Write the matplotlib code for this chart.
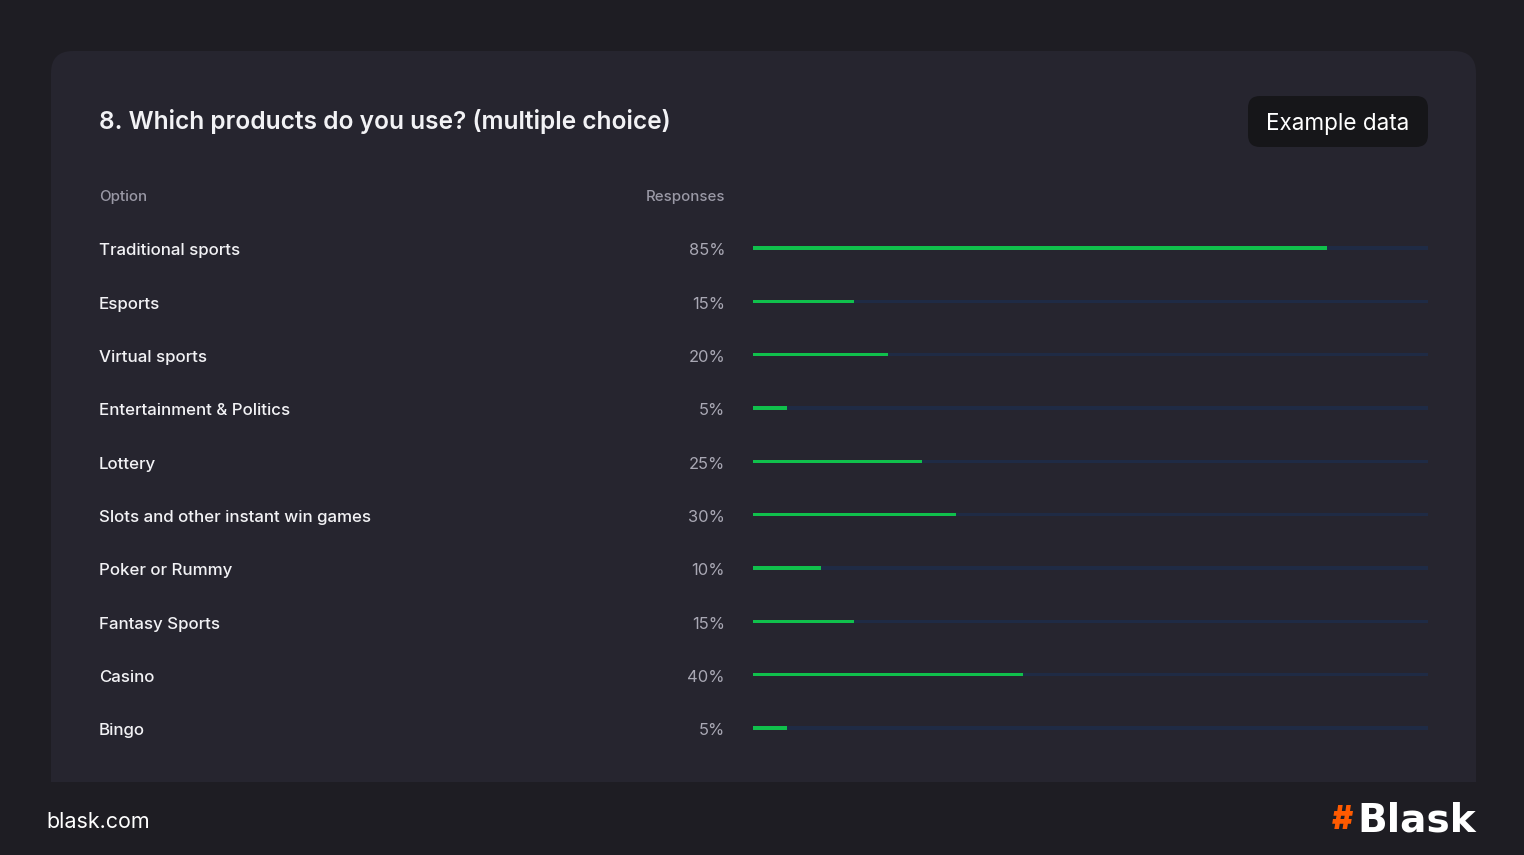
import matplotlib
matplotlib.use("Agg")
import matplotlib.pyplot as plt
from matplotlib.patches import FancyBboxPatch, Rectangle
from matplotlib.transforms import blended_transform_factory

plt.rcParams['font.family'] = ['Inter', 'DejaVu Sans']

title = "8. Which products do you use? (multiple choice)"
options = ["Traditional sports", "Esports", "Virtual sports", "Entertainment & Politics",
           "Lottery", "Slots and other instant win games", "Poker or Rummy",
           "Fantasy Sports", "Casino", "Bingo"]
responses = [85, 15, 20, 5, 25, 30, 10, 15, 40, 5]
header_option = "Option"
header_resp = "Responses"
badge_text = "Example data"
footer_left = "blask.com"

W, H = 1524, 855
PX = 0.72  # points per pixel at dpi 100

fig = plt.figure(figsize=(W / 100, H / 100), dpi=100)
fig.patch.set_facecolor("#1e1d23")

bg = fig.add_axes([0, 0, 1, 1])
bg.set_xlim(0, W)
bg.set_ylim(H, 0)
bg.axis("off")

# card
card = FancyBboxPatch((51, 51), 1425, 760, boxstyle="round,pad=0,rounding_size=22",
                      facecolor="#26252f", edgecolor="none", zorder=1)
bg.add_patch(card)
bg.add_patch(Rectangle((51, 782), 1425, 40, facecolor="#1e1d23", edgecolor="none", zorder=1.5))

# badge
badge = FancyBboxPatch((1248, 96), 180, 51, boxstyle="round,pad=0,rounding_size=12",
                       facecolor="#161619", edgecolor="none", zorder=2)
bg.add_patch(badge)
bg.text(1338, 124, badge_text, color="white", fontsize=22.5 * PX, ha="center", va="center",
        zorder=3)

bg.text(99, 122, title, color="#f2f2f5", fontsize=24.5 * PX, fontweight="semibold",
        ha="left", va="center", zorder=3)
bg.text(99, 197, header_option, color="#9a99a6", fontsize=15 * PX, fontweight="medium",
        ha="left", va="center", zorder=3)
bg.text(725, 197, header_resp, color="#9a99a6", fontsize=15 * PX, fontweight="medium",
        ha="right", va="center", zorder=3)

# footer
bg.text(46, 822, footer_left, color="white", fontsize=21.5 * PX, ha="left", va="center", zorder=3)
bg.text(1342, 820, "#", color="#ff5a00", fontsize=32 * PX, fontweight="black",
        ha="center", va="center", zorder=3)
bg.text(1357, 820, "Blask", color="white", fontsize=39 * PX, fontweight="bold",
        family="DejaVu Sans", ha="left", va="center", zorder=3)

# bars axes
n = len(options)
y0, y1 = 248, 728
step = (y1 - y0) / (n - 1)
top_px = y0 - step / 2
bot_px = y1 + step / 2
x_l, x_r = 753, 1428
ax = fig.add_axes([x_l / W, 1 - bot_px / H, (x_r - x_l) / W, (bot_px - top_px) / H])
ax.set_facecolor("none")
ax.set_xlim(0, 100)
ax.set_ylim(n - 0.5, -0.5)
ax.axis("off")
rows = list(range(n))
bh = 3.4 / step
ax.barh(rows, [100] * n, height=bh, color="#1f2b45", zorder=1)
ax.barh(rows, responses, height=bh, color="#10c04c", zorder=2)

tr = blended_transform_factory(bg.transData, ax.transData)
off = 2.8 / step
for i, (o, r) in enumerate(zip(options, responses)):
    fig.text(99, i + off, o, transform=tr, color="#f2f2f5", fontsize=16.9 * PX,
             fontweight="medium", ha="left", va="center")
    fig.text(725, i + off, f"{r}%", transform=tr, color="#a9a8b4", fontsize=16.5 * PX,
             ha="right", va="center")

fig.savefig("out.png", dpi=100, facecolor=fig.get_facecolor())
